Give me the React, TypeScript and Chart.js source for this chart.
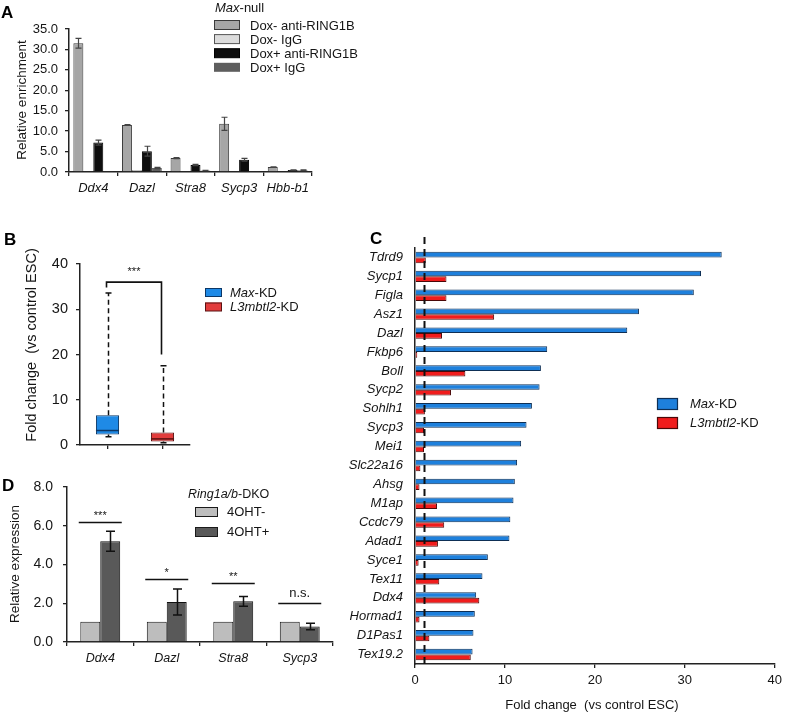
import React, { useEffect, useRef } from "react";
import { Chart, registerables } from "chart.js";

Chart.register(...registerables);

const W = 787;
const H = 715;
const FONT = "'Liberation Sans', Arial, Helvetica, sans-serif";
const TXT = "#151515";

// ---------- Panel A data ----------
const aGenes = ["Ddx4", "Dazl", "Stra8", "Sycp3", "Hbb-b1"];
const aSeriesNames = ["Dox- anti-RING1B", "Dox- IgG", "Dox+ anti-RING1B", "Dox+ IgG"];
const aDoxMinusAnti = [31.5, 11.5, 3.4, 11.8, 1.2];
const aDoxMinusAntiErr = [1.2, 0.1, 0.15, 1.6, 0.05];
const aDoxMinusIgG = [0.15, 0.4, 0.15, 0.15, 0.15];
const aDoxMinusIgGErr = [0, 0, 0, 0, 0];
const aDoxPlusAnti = [7.2, 5.1, 1.7, 3.0, 0.5];
const aDoxPlusAntiErr = [0.6, 1.2, 0.15, 0.35, 0.05];
const aDoxPlusIgG = [0.15, 1.0, 0.35, 0.15, 0.4];
const aDoxPlusIgGErr = [0, 0.15, 0.05, 0, 0.1];

// ---------- Panel B data (box plot) ----------
const bGroups = ["Max-KD", "L3mbtl2-KD"];
const bMin = [1.8, 0.5];
const bQ1 = [2.3, 0.75];
const bMedian = [3.2, 1.35];
const bQ3 = [6.6, 2.75];
const bMax = [33.6, 17.5];
const bSigLabel = "***";
const bBracketY = 36;
const bBracketLeftEnd = 34.8;
const bBracketRightEnd = 20;

// ---------- Panel C data ----------
const cGenes = [
  "Tdrd9", "Sycp1", "Figla", "Asz1", "Dazl", "Fkbp6", "Boll", "Sycp2", "Sohlh1", "Sycp3", "Mei1",
  "Slc22a16", "Ahsg", "M1ap", "Ccdc79", "Adad1", "Syce1", "Tex11", "Ddx4", "Hormad1", "D1Pas1", "Tex19.2",
];
const cMaxKD = [34.1, 31.8, 31.0, 24.9, 23.6, 14.7, 14.0, 13.85, 13.0, 12.4, 11.8, 11.35, 11.1, 10.95, 10.6, 10.5, 8.1, 7.5, 6.8, 6.65, 6.5, 6.4];
const cL3mbtl2KD = [1.2, 3.5, 3.5, 8.8, 3.0, 0.25, 5.6, 4.0, 1.1, 1.0, 1.0, 0.6, 0.5, 2.45, 3.25, 2.55, 0.4, 2.7, 7.15, 0.5, 1.6, 6.2];
const cThreshold = 1;

// ---------- Panel D data ----------
const dGenes = ["Ddx4", "Dazl", "Stra8", "Sycp3"];
const d4OHTminus = [1.05, 1.05, 1.05, 1.05];
const d4OHTplus = [5.2, 2.07, 2.1, 0.8];
const d4OHTplusErr = [0.52, 0.67, 0.25, 0.17];
const dSigHeight = [6.2, 3.25, 3.05, 2.0];
const dSigLabel = ["***", "*", "**", "n.s."];

type Part = [string, boolean];

function richText(ctx: CanvasRenderingContext2D, parts: Part[], x: number, y: number, size: number, align: "left" | "center" = "left") {
  let total = 0;
  parts.forEach(([t, it]) => {
    ctx.font = `${it ? "italic " : ""}${size}px ${FONT}`;
    total += ctx.measureText(t).width;
  });
  let cx = align === "center" ? x - total / 2 : x;
  ctx.textBaseline = "middle";
  ctx.textAlign = "left";
  parts.forEach(([t, it]) => {
    ctx.font = `${it ? "italic " : ""}${size}px ${FONT}`;
    ctx.fillText(t, cx, y);
    cx += ctx.measureText(t).width;
  });
}

function rotatedText(ctx: CanvasRenderingContext2D, text: string, x: number, y: number, size: number) {
  ctx.save();
  ctx.translate(x, y);
  ctx.rotate(-Math.PI / 2);
  ctx.font = `${size}px ${FONT}`;
  ctx.textAlign = "center";
  ctx.textBaseline = "middle";
  ctx.fillStyle = TXT;
  ctx.fillText(text, 0, 0);
  ctx.restore();
}

function letter(ctx: CanvasRenderingContext2D, t: string, x: number, y: number) {
  ctx.save();
  ctx.font = `bold 17px ${FONT}`;
  ctx.fillStyle = "#000";
  ctx.textAlign = "left";
  ctx.textBaseline = "alphabetic";
  ctx.fillText(t, x, y);
  ctx.restore();
}

function pad(l: number, t: number, r: number, b: number, yW: number, xH: number) {
  return { left: l - yW, top: t, right: W - r, bottom: H - b - xH };
}

const errorBarPlugin = {
  id: "errorBars",
  afterDatasetsDraw(chart: any) {
    const ctx = chart.ctx as CanvasRenderingContext2D;
    const ys = chart.scales.y;
    chart.data.datasets.forEach((ds: any, di: number) => {
      const errs: number[] | undefined = ds.errors;
      if (!errs) return;
      const meta = chart.getDatasetMeta(di);
      meta.data.forEach((bar: any, i: number) => {
        const e = errs[i];
        if (!e) return;
        const v = ds.data[i] as number;
        const x = Math.round(bar.x) + 0.5;
        const y1 = ys.getPixelForValue(v + e);
        const y2 = ys.getPixelForValue(Math.max(0, v - e));
        const c = ds.capHalf || 3.5;
        ctx.save();
        ctx.strokeStyle = ds.errorColor || "#333";
        ctx.lineWidth = ds.errorWidth || 1.2;
        ctx.beginPath();
        ctx.moveTo(x, y1);
        ctx.lineTo(x, y2);
        ctx.moveTo(x - c, y1);
        ctx.lineTo(x + c, y1);
        ctx.moveTo(x - c, y2);
        ctx.lineTo(x + c, y2);
        ctx.stroke();
        ctx.restore();
      });
    });
  },
};

const baseOptions = {
  responsive: false,
  animation: false as const,
  events: [] as any[],
  plugins: { legend: { display: false }, tooltip: { enabled: false } },
};

function makeA(canvas: HTMLCanvasElement) {
  const colors = ["#a6a6a6", "#dcdcdc", "#0e0e0e", "#5e5e5e"];
  const borders = ["#3a3a3a", "#555555", "#000000", "#5e5e5e"];
  const values = [aDoxMinusAnti, aDoxMinusIgG, aDoxPlusAnti, aDoxPlusIgG];
  const errs = [aDoxMinusAntiErr, aDoxMinusIgGErr, aDoxPlusAntiErr, aDoxPlusIgGErr];
  const yW = 50, xH = 30;
  return new Chart(canvas, {
    type: "bar",
    data: {
      labels: aGenes,
      datasets: aSeriesNames.map((name, i) => ({
        label: name,
        data: values[i],
        backgroundColor: colors[i],
        borderColor: borders[i],
        borderWidth: 1,
        barPercentage: 1,
        categoryPercentage: 0.82,
        errors: errs[i],
        errorColor: "#444",
        capHalf: 3,
      })) as any,
    },
    options: {
      ...baseOptions,
      layout: { padding: pad(69, 29, 312, 172, yW, xH) },
      scales: {
        x: {
          afterFit: (s: any) => { s.height = xH; },
          grid: { drawOnChartArea: false, tickLength: 4, color: "#222", lineWidth: 1.3 },
          border: { color: "#222", width: 1.5 },
          ticks: { color: TXT, font: { size: 13, style: "italic", family: FONT }, padding: 5, maxRotation: 0 },
        },
        y: {
          min: 0,
          max: 35,
          afterFit: (s: any) => { s.width = yW; },
          grid: { drawOnChartArea: false, tickLength: 4, color: "#222", lineWidth: 1.3 },
          border: { color: "#222", width: 1.5 },
          ticks: { stepSize: 5, color: TXT, font: { size: 13, family: FONT }, padding: 7, callback: (v: any) => Number(v).toFixed(1) },
        },
      },
    } as any,
    plugins: [
      errorBarPlugin,
      {
        id: "aDecor",
        afterDraw(chart: any) {
          const ctx = chart.ctx as CanvasRenderingContext2D;
          ctx.save();
          letter(ctx, "A", 1, 18);
          ctx.fillStyle = TXT;
          richText(ctx, [["Max", true], ["-null", false]], 215, 8, 13);
          aSeriesNames.forEach((name, i) => {
            const y = 25 + i * 14.1;
            ctx.fillStyle = colors[i];
            ctx.fillRect(214, y - 4.5, 26, 9);
            if (i !== 3) {
              ctx.strokeStyle = borders[i];
              ctx.lineWidth = 1;
              ctx.strokeRect(214.5, y - 4.5, 25, 9);
            }
            ctx.fillStyle = TXT;
            richText(ctx, [[name, false]], 250, y + 1.2, 13);
          });
          rotatedText(ctx, "Relative enrichment", 22, 100, 13.5);
          ctx.restore();
        },
      },
    ],
  });
}

function makeB(canvas: HTMLCanvasElement) {
  const fills = ["#1f8ae6", "#e23c3c"];
  const edges = ["#0c3766", "#5a1212"];
  const yW = 50, xH = 20;
  return new Chart(canvas, {
    type: "bar",
    data: {
      labels: bGroups,
      datasets: [
        {
          label: "box",
          data: bQ1.map((q, i) => [q, bQ3[i]]) as any,
          backgroundColor: fills,
          borderColor: edges,
          borderWidth: 1,
          borderSkipped: false,
          barPercentage: 0.42,
          categoryPercentage: 1,
        },
      ],
    },
    options: {
      ...baseOptions,
      layout: { padding: pad(80, 264, 190, 445, yW, xH) },
      scales: {
        x: {
          afterFit: (s: any) => { s.height = xH; },
          grid: { drawOnChartArea: false, offset: false, tickLength: 4, color: "#222", lineWidth: 1.3 },
          border: { color: "#222", width: 1.5 },
          ticks: { display: false },
        },
        y: {
          min: 0,
          max: 40,
          afterFit: (s: any) => { s.width = yW; },
          grid: { drawOnChartArea: false, tickLength: 4, color: "#222", lineWidth: 1.3 },
          border: { color: "#222", width: 1.5 },
          ticks: { stepSize: 10, color: TXT, font: { size: 14.5, family: FONT }, padding: 8 },
        },
      },
    } as any,
    plugins: [
      {
        id: "bDecor",
        afterDatasetsDraw(chart: any) {
          const ctx = chart.ctx as CanvasRenderingContext2D;
          const ys = chart.scales.y;
          const meta = chart.getDatasetMeta(0);
          ctx.save();
          meta.data.forEach((bar: any, i: number) => {
            const x = Math.round(bar.x) + 0.5;
            const half = bar.width / 2;
            const pq3 = ys.getPixelForValue(bQ3[i]);
            const pq1 = ys.getPixelForValue(bQ1[i]);
            const pmax = ys.getPixelForValue(bMax[i]);
            const pmin = ys.getPixelForValue(bMin[i]);
            const pmed = ys.getPixelForValue(bMedian[i]);
            ctx.strokeStyle = "#111";
            ctx.lineWidth = 1.5;
            ctx.setLineDash([5, 3.5]);
            ctx.beginPath();
            ctx.moveTo(x, pq3);
            ctx.lineTo(x, pmax);
            ctx.stroke();
            ctx.setLineDash([]);
            ctx.beginPath();
            ctx.moveTo(x - 3, pmax);
            ctx.lineTo(x + 3, pmax);
            ctx.moveTo(x, pq1);
            ctx.lineTo(x, pmin);
            ctx.moveTo(x - 3, pmin);
            ctx.lineTo(x + 3, pmin);
            ctx.stroke();
            ctx.strokeStyle = edges[i];
            ctx.lineWidth = 1.5;
            ctx.beginPath();
            ctx.moveTo(bar.x - half, pmed);
            ctx.lineTo(bar.x + half, pmed);
            ctx.stroke();
          });
          // significance bracket
          const x1 = Math.round(meta.data[0].x) - 1.5;
          const x2 = Math.round(meta.data[1].x) - 1.5;
          const yb = ys.getPixelForValue(bBracketY);
          ctx.strokeStyle = "#111";
          ctx.lineWidth = 1.6;
          ctx.beginPath();
          ctx.moveTo(x1, ys.getPixelForValue(bBracketLeftEnd));
          ctx.lineTo(x1, yb);
          ctx.lineTo(x2, yb);
          ctx.lineTo(x2, ys.getPixelForValue(bBracketRightEnd));
          ctx.stroke();
          ctx.fillStyle = TXT;
          richText(ctx, [[bSigLabel, false]], (x1 + x2) / 2, yb - 10, 11, "center");
          ctx.restore();
        },
        afterDraw(chart: any) {
          const ctx = chart.ctx as CanvasRenderingContext2D;
          ctx.save();
          letter(ctx, "B", 4, 245);
          const rows: Part[][] = [
            [["Max", true], ["-KD", false]],
            [["L3mbtl2", true], ["-KD", false]],
          ];
          rows.forEach((parts, i) => {
            const y = 292 + i * 14.5;
            ctx.fillStyle = fills[i];
            ctx.fillRect(205, y - 4, 17, 8.5);
            ctx.strokeStyle = edges[i];
            ctx.lineWidth = 1;
            ctx.strokeRect(205.5, y - 3.5, 16, 8);
            ctx.fillStyle = TXT;
            richText(ctx, parts, 230, y + 1, 13);
          });
          rotatedText(ctx, "Fold change  (vs control ESC)", 32, 345, 14.5);
          ctx.restore();
        },
      },
    ],
  });
}

function makeC(canvas: HTMLCanvasElement) {
  const fills = ["#1e80dc", "#f01c1c"];
  const edges = ["#0e2f55", "#4a0808"];
  const yW = 110, xH = 30;
  return new Chart(canvas, {
    type: "bar",
    data: {
      labels: cGenes,
      datasets: [
        { label: "Max-KD", data: cMaxKD, backgroundColor: fills[0], borderColor: edges[0], borderWidth: 1, barPercentage: 1, categoryPercentage: 0.6 },
        { label: "L3mbtl2-KD", data: cL3mbtl2KD, backgroundColor: fills[1], borderColor: edges[1], borderWidth: 1, barPercentage: 1, categoryPercentage: 0.6 },
      ],
    },
    options: {
      ...baseOptions,
      indexAxis: "y",
      layout: { padding: pad(415, 248, 779, 664, yW, xH) },
      scales: {
        x: {
          min: 0,
          max: 40,
          afterFit: (s: any) => { s.height = xH; },
          grid: { drawOnChartArea: false, tickLength: 4, color: "#222", lineWidth: 1.3 },
          border: { color: "#222", width: 1.5 },
          ticks: { stepSize: 10, color: TXT, font: { size: 13, family: FONT }, padding: 5 },
        },
        y: {
          afterFit: (s: any) => { s.width = yW; },
          grid: { display: false, drawTicks: false, tickLength: 0 },
          border: { color: "#222", width: 1.5 },
          ticks: { color: TXT, font: { size: 13, style: "italic", family: FONT }, padding: 12, autoSkip: false },
        },
      },
    } as any,
    plugins: [
      {
        id: "cDecor",
        afterDatasetsDraw(chart: any) {
          const ctx = chart.ctx as CanvasRenderingContext2D;
          const xs = chart.scales.x;
          const x = Math.round(xs.getPixelForValue(cThreshold)) + 0.5;
          ctx.save();
          ctx.strokeStyle = "#111";
          ctx.lineWidth = 2;
          ctx.setLineDash([7, 5]);
          ctx.beginPath();
          ctx.moveTo(x, 237);
          ctx.lineTo(x, chart.chartArea.bottom);
          ctx.stroke();
          ctx.restore();
        },
        afterDraw(chart: any) {
          const ctx = chart.ctx as CanvasRenderingContext2D;
          ctx.save();
          letter(ctx, "C", 370, 244);
          const rows: Part[][] = [
            [["Max", true], ["-KD", false]],
            [["L3mbtl2", true], ["-KD", false]],
          ];
          rows.forEach((parts, i) => {
            const y = 404 + i * 19;
            ctx.fillStyle = fills[i];
            ctx.fillRect(657, y - 6, 21, 12);
            ctx.strokeStyle = edges[i];
            ctx.lineWidth = 1.2;
            ctx.strokeRect(657.5, y - 5.5, 20, 11);
            ctx.fillStyle = TXT;
            richText(ctx, parts, 690, y, 13);
          });
          ctx.fillStyle = TXT;
          richText(ctx, [["Fold change  (vs control ESC)", false]], 592, 705, 13, "center");
          ctx.restore();
        },
      },
    ],
  });
}

function makeD(canvas: HTMLCanvasElement) {
  const fills = ["#bdbdbd", "#595959"];
  const yW = 50, xH = 25;
  return new Chart(canvas, {
    type: "bar",
    data: {
      labels: dGenes,
      datasets: [
        { label: "4OHT-", data: d4OHTminus, backgroundColor: fills[0], borderColor: "#1a1a1a", borderWidth: 1, barPercentage: 1, categoryPercentage: 0.6 },
        {
          label: "4OHT+", data: d4OHTplus, backgroundColor: fills[1], borderColor: "#111", borderWidth: 1, barPercentage: 1, categoryPercentage: 0.6,
          errors: d4OHTplusErr, errorColor: "#111", errorWidth: 1.5, capHalf: 4.5,
        },
      ] as any,
    },
    options: {
      ...baseOptions,
      layout: { padding: pad(67, 487, 333, 642, yW, xH) },
      scales: {
        x: {
          afterFit: (s: any) => { s.height = xH; },
          grid: { drawOnChartArea: false, tickLength: 4, color: "#222", lineWidth: 1.3 },
          border: { color: "#222", width: 1.5 },
          ticks: { color: TXT, font: { size: 12.5, style: "italic", family: FONT }, padding: 5, maxRotation: 0 },
        },
        y: {
          min: 0,
          max: 8,
          afterFit: (s: any) => { s.width = yW; },
          grid: { drawOnChartArea: false, tickLength: 4, color: "#222", lineWidth: 1.3 },
          border: { color: "#222", width: 1.5 },
          ticks: { stepSize: 2, color: TXT, font: { size: 14, family: FONT }, padding: 10, callback: (v: any) => Number(v).toFixed(1) },
        },
      },
    } as any,
    plugins: [
      errorBarPlugin,
      {
        id: "dDecor",
        afterDatasetsDraw(chart: any) {
          const ctx = chart.ctx as CanvasRenderingContext2D;
          const xs = chart.scales.x;
          const ys = chart.scales.y;
          ctx.save();
          dGenes.forEach((_, i) => {
            const cx = xs.getPixelForValue(i);
            const y = Math.round(ys.getPixelForValue(dSigHeight[i])) + 0.5;
            ctx.strokeStyle = "#111";
            ctx.lineWidth = 1.5;
            ctx.beginPath();
            ctx.moveTo(cx - 21.5, y);
            ctx.lineTo(cx + 21.5, y);
            ctx.stroke();
            ctx.fillStyle = TXT;
            const lab = dSigLabel[i];
            if (lab === "n.s.") richText(ctx, [[lab, false]], cx, y - 10, 13, "center");
            else richText(ctx, [[lab, false]], cx, y - 7, 11, "center");
          });
          ctx.restore();
        },
        afterDraw(chart: any) {
          const ctx = chart.ctx as CanvasRenderingContext2D;
          ctx.save();
          letter(ctx, "D", 2, 491);
          ctx.fillStyle = TXT;
          richText(ctx, [["Ring1a/b", true], ["-DKO", false]], 188, 495, 12.5);
          ["4OHT-", "4OHT+"].forEach((name, i) => {
            const y = 512 + i * 20;
            ctx.fillStyle = fills[i];
            ctx.fillRect(195, y - 5, 23, 10);
            ctx.strokeStyle = "#1a1a1a";
            ctx.lineWidth = 1;
            ctx.strokeRect(195.5, y - 4.5, 22, 9);
            ctx.fillStyle = TXT;
            richText(ctx, [[name, false]], 227, y + 0.5, 13);
          });
          rotatedText(ctx, "Relative expression", 15, 564, 13.5);
          ctx.restore();
        },
      },
    ],
  });
}

export default function App() {
  const refA = useRef<HTMLCanvasElement>(null);
  const refB = useRef<HTMLCanvasElement>(null);
  const refC = useRef<HTMLCanvasElement>(null);
  const refD = useRef<HTMLCanvasElement>(null);

  useEffect(() => {
    Chart.defaults.font.family = FONT;
    Chart.defaults.color = TXT;
    const charts: Chart[] = [];
    if (refA.current) charts.push(makeA(refA.current));
    if (refB.current) charts.push(makeB(refB.current));
    if (refC.current) charts.push(makeC(refC.current));
    if (refD.current) charts.push(makeD(refD.current));
    return () => charts.forEach((c) => c.destroy());
  }, []);

  const cs: React.CSSProperties = { position: "absolute", left: 0, top: 0, width: W, height: H };
  return (
    <div style={{ position: "fixed", left: 0, top: 0, width: W, height: H, background: "#fff", overflow: "hidden" }}>
      <canvas ref={refA} width={W} height={H} style={cs} />
      <canvas ref={refB} width={W} height={H} style={cs} />
      <canvas ref={refC} width={W} height={H} style={cs} />
      <canvas ref={refD} width={W} height={H} style={cs} />
    </div>
  );
}
